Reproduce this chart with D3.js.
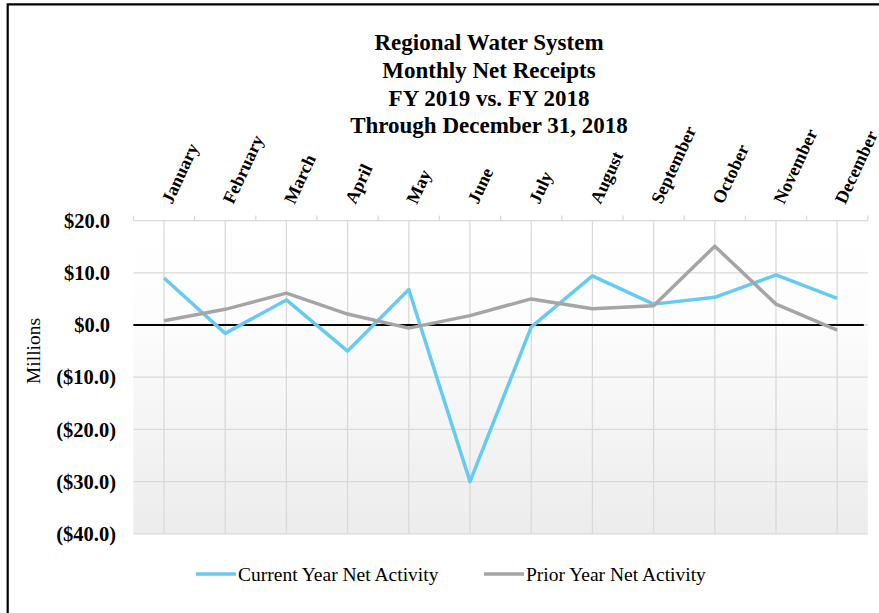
<!DOCTYPE html>
<html>
<head>
<meta charset="utf-8">
<script src="https://cdn.jsdelivr.net/npm/d3@7"></script>
<style>
  html, body { margin: 0; padding: 0; background: #fff; }
  svg { display: block; }
</style>
</head>
<body>
<svg id="chart" width="879" height="613"></svg>
<script>
const titleLines = ["Regional Water System", "Monthly Net Receipts", "FY 2019 vs. FY 2018", "Through December 31, 2018"];
const months = ["January", "February", "March", "April", "May", "June", "July", "August", "September", "October", "November", "December"];
const currentYear = [9.0, -1.6, 4.8, -5.0, 6.8, -30.0, -0.4, 9.4, 4.0, 5.3, 9.6, 5.1];
const priorYear = [0.8, 3.0, 6.1, 2.1, -0.6, 1.8, 5.0, 3.1, 3.7, 15.1, 4.0, -1.0];
const yTicks = [20, 10, 0, -10, -20, -30, -40];
const seriesNames = ["Current Year Net Activity", "Prior Year Net Activity"];
const seriesColors = ["#66cbf2", "#a5a5a5"];

const svg = d3.select("#chart");
const serif = "'Liberation Serif', 'Times New Roman', serif";

const plot = { left: 133.4, right: 867.8, top: 220.6, bottom: 533.8 };

const x = d3.scaleBand().domain(months).range([plot.left, plot.right]).paddingInner(0).paddingOuter(0);
const xc = m => x(m) + x.bandwidth() / 2;
const y = d3.scaleLinear().domain([-40, 20]).range([plot.bottom, plot.top]);

// outer frame (left + top only visible)
svg.append("path").attr("d", "M7.7,613 L7.7,4.3 L879,4.3")
  .attr("fill", "none").attr("stroke", "#000").attr("stroke-width", 2.2);

// background gradient
const defs = svg.append("defs");
const grad = defs.append("linearGradient").attr("id", "bg").attr("x1", 0).attr("y1", 0).attr("x2", 0).attr("y2", 1);
grad.append("stop").attr("offset", "0%").attr("stop-color", "#ffffff");
grad.append("stop").attr("offset", "30%").attr("stop-color", "#fdfdfd");
grad.append("stop").attr("offset", "100%").attr("stop-color", "#ececec");
svg.append("rect")
  .attr("x", plot.left).attr("y", plot.top)
  .attr("width", plot.right - plot.left).attr("height", plot.bottom - plot.top)
  .attr("fill", "url(#bg)");

// horizontal gridlines
svg.append("g").selectAll("line").data(yTicks).join("line")
  .attr("x1", plot.left).attr("x2", plot.right)
  .attr("y1", d => y(d)).attr("y2", d => y(d))
  .attr("stroke", "#d9d9d9").attr("stroke-width", 1.3);

// vertical gridlines at month centres
svg.append("g").selectAll("line").data(months).join("line")
  .attr("x1", d => xc(d)).attr("x2", d => xc(d))
  .attr("y1", plot.top).attr("y2", plot.bottom)
  .attr("stroke", "#d9d9d9").attr("stroke-width", 1.3);

// top axis with tick marks at band boundaries
const bounds = months.map(m => x(m)).concat([plot.right]);
svg.append("g").selectAll("line").data(bounds).join("line")
  .attr("x1", d => d).attr("x2", d => d)
  .attr("y1", plot.top - 5).attr("y2", plot.top)
  .attr("stroke", "#d9d9d9").attr("stroke-width", 1.3);

// zero line
svg.append("line")
  .attr("x1", plot.left).attr("x2", plot.right - 4)
  .attr("y1", y(0)).attr("y2", y(0))
  .attr("stroke", "#000").attr("stroke-width", 2);

// y tick labels
svg.append("g").selectAll("text").data(yTicks).join("text")
  .attr("x", d => d < 0 ? 116 : 110)
  .attr("y", d => y(d))
  .attr("dy", "0.35em")
  .attr("text-anchor", "end")
  .attr("font-family", serif).attr("font-weight", "bold").attr("font-size", 20.5)
  .attr("fill", "#000")
  .text(d => d < 0 ? "($" + Math.abs(d).toFixed(1) + ")" : "$" + d.toFixed(1));

// y axis title
svg.append("text")
  .attr("transform", `translate(40,351) rotate(-90)`)
  .attr("text-anchor", "middle")
  .attr("font-family", serif).attr("font-size", 19.5)
  .attr("fill", "#000")
  .text("Millions");

// month labels
svg.append("g").selectAll("text").data(months).join("text")
  .attr("transform", d => `translate(${xc(d) + 8},${205}) rotate(-65)`)
  .attr("text-anchor", "start")
  .attr("font-family", serif).attr("font-weight", "bold").attr("font-size", 18)
  .attr("fill", "#000")
  .text(d => d);

// lines
const line = d3.line().x((d, i) => xc(months[i])).y(d => y(d));
[currentYear, priorYear].forEach((s, k) => {
  svg.append("path").datum(s)
    .attr("d", line)
    .attr("fill", "none")
    .attr("stroke", seriesColors[k])
    .attr("stroke-width", 3.5)
    .attr("stroke-linejoin", "round");
});

// title
svg.append("g").selectAll("text").data(titleLines).join("text")
  .attr("x", 489).attr("y", (d, i) => 50 + i * 27.8)
  .attr("text-anchor", "middle")
  .attr("font-family", serif).attr("font-weight", "bold").attr("font-size", 23)
  .attr("fill", "#000")
  .text(d => d);

// legend
const legX = [196, 484];
const lg = svg.append("g");
seriesNames.forEach((n, k) => {
  lg.append("line")
    .attr("x1", legX[k]).attr("x2", legX[k] + 40)
    .attr("y1", 574).attr("y2", 574)
    .attr("stroke", seriesColors[k]).attr("stroke-width", 3.5);
  lg.append("text")
    .attr("x", legX[k] + 42).attr("y", 574).attr("dy", "0.35em")
    .attr("font-family", serif).attr("font-size", 19.5)
    .attr("fill", "#000")
    .text(n);
});
</script>
</body>
</html>
